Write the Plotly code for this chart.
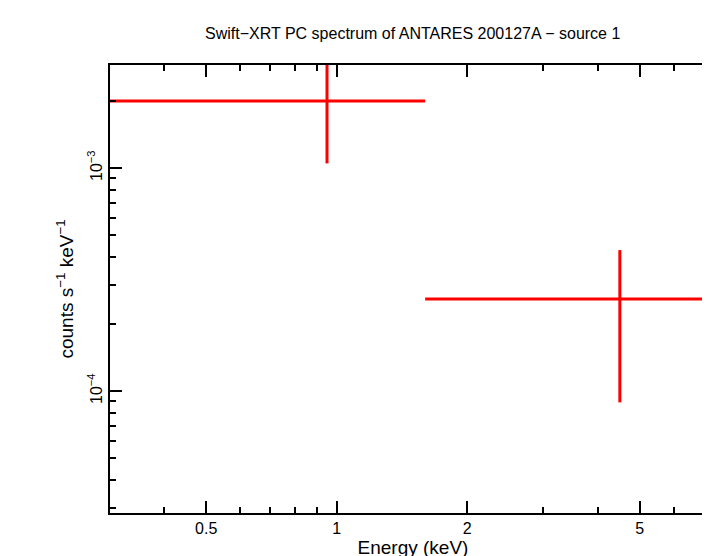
import numpy as np
import plotly.graph_objects as go

energy = [0.95, 4.5]
e_lo = [0.3, 1.6]
e_hi = [1.6, 7.5]
rate = [2.0e-3, 2.59e-4]
rate_hi = [3.1e-3, 4.29e-4]
rate_lo = [1.05e-3, 8.9e-5]

xerr_minus = [e - l for e, l in zip(energy, e_lo)]
xerr_plus = [h - e for e, h in zip(energy, e_hi)]
yerr_minus = [r - l for r, l in zip(rate, rate_lo)]
yerr_plus = [h - r for r, h in zip(rate, rate_hi)]

fig = go.Figure()
fig.add_trace(go.Scatter(
    x=energy, y=rate, mode='markers', marker=dict(size=1, color='red'),
    error_x=dict(type='data', symmetric=False, array=xerr_plus, arrayminus=xerr_minus,
                 color='red', thickness=3, width=0),
    error_y=dict(type='data', symmetric=False, array=yerr_plus, arrayminus=yerr_minus,
                 color='red', thickness=3, width=0),
    showlegend=False,
))

x_minor = [0.3, 0.4, 0.6, 0.7, 0.8, 0.9, 3, 4, 6, 7]
y_minor = [3e-5, 4e-5, 5e-5, 6e-5, 7e-5, 8e-5, 9e-5,
           2e-4, 3e-4, 4e-4, 5e-4, 6e-4, 7e-4, 8e-4, 9e-4, 2e-3]

axis_common = dict(type='log', showline=True, linecolor='black', linewidth=2, mirror='allticks',
                   ticks='inside', ticklen=12, tickwidth=1.5, tickcolor='black', showgrid=False,
                   zeroline=False, automargin=False)

fig.update_layout(
    width=710, height=556, plot_bgcolor='white', paper_bgcolor='white',
    font=dict(family='Liberation Sans, Arial', size=16, color='black'),
    title=dict(text='Swift−XRT PC spectrum of ANTARES 200127A − source 1', x=0.57, y=0.965,
               xanchor='center', font=dict(size=16)),
    margin=dict(l=102, r=2, t=57, b=51),
    xaxis=dict(axis_common, range=[np.log10(0.3), np.log10(7.5)],
               tickvals=[0.5, 1, 2, 5], ticktext=['0.5', '1', '2', '5'],
               minor=dict(tickvals=x_minor, ticks='inside', ticklen=6, tickcolor='black'),
               title=dict(text='Energy (keV)', standoff=2)),
    yaxis=dict(axis_common, range=[np.log10(2.84e-5), np.log10(2.9e-3)],
               tickvals=[1e-4, 1e-3], ticktext=['10<sup>−4</sup>', '10<sup>−3</sup>'], tickangle=-90,
               minor=dict(tickvals=y_minor, ticks='inside', ticklen=6, tickcolor='black'),
               title=dict(text='counts s<sup>−1</sup> keV<sup>−1</sup>', standoff=6)),
)

fig.write_html('out.html')
